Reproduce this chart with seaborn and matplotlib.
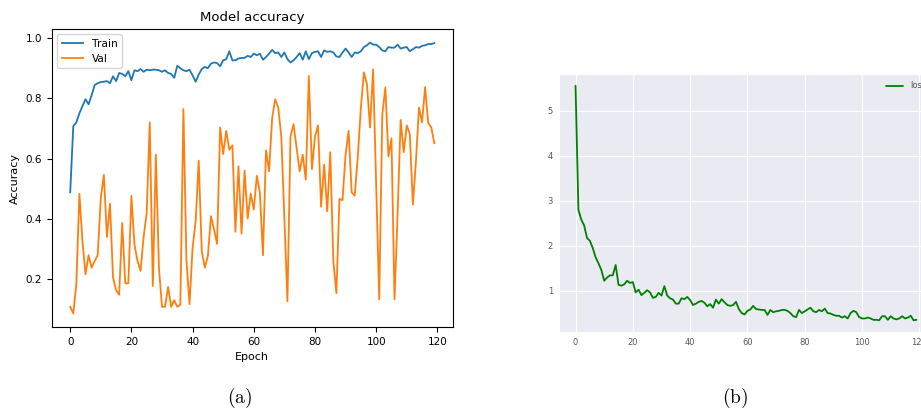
import numpy as np
import pandas as pd
import seaborn as sns
import matplotlib.pyplot as plt
import matplotlib as mpl

mpl.rcParams['mathtext.fontset'] = 'cm'

# data
epochs = list(range(120))

train_acc = [0.488, 0.707, 0.72, 0.75, 0.774, 0.797, 0.78, 0.81, 0.844, 0.85,
             0.854, 0.855, 0.857, 0.85, 0.873, 0.857, 0.884, 0.881, 0.873, 0.89,
             0.86, 0.893, 0.89, 0.897, 0.888, 0.895, 0.893, 0.895, 0.895, 0.893,
             0.888, 0.893, 0.884, 0.881, 0.868, 0.908, 0.9, 0.893, 0.89, 0.895,
             0.876, 0.855, 0.879, 0.897, 0.904, 0.9, 0.915, 0.919, 0.917, 0.906,
             0.926, 0.93, 0.956, 0.926, 0.926, 0.932, 0.934, 0.934, 0.941, 0.937,
             0.948, 0.943, 0.948, 0.928, 0.937, 0.948, 0.961, 0.95, 0.952, 0.937,
             0.952, 0.93, 0.919, 0.926, 0.937, 0.95, 0.928, 0.956, 0.93, 0.95,
             0.954, 0.956, 0.937, 0.959, 0.954, 0.956, 0.952, 0.939, 0.937, 0.952,
             0.965, 0.952, 0.937, 0.952, 0.95, 0.956, 0.97, 0.976, 0.985, 0.978,
             0.978, 0.97, 0.959, 0.956, 0.97, 0.968, 0.968, 0.978, 0.965, 0.968,
             0.97, 0.956, 0.963, 0.97, 0.968, 0.974, 0.976, 0.98, 0.98, 0.983]

val_acc = [0.108, 0.086, 0.183, 0.483, 0.326, 0.216, 0.279, 0.238, 0.26, 0.28,
           0.469, 0.546, 0.34, 0.45, 0.205, 0.163, 0.148, 0.386, 0.186, 0.186,
           0.476, 0.315, 0.26, 0.227, 0.34, 0.42, 0.72, 0.177, 0.613, 0.238,
           0.108, 0.108, 0.174, 0.108, 0.13, 0.108, 0.115, 0.764, 0.26, 0.117,
           0.304, 0.392, 0.593, 0.293, 0.238, 0.277, 0.409, 0.365, 0.317, 0.703,
           0.615, 0.692, 0.629, 0.644, 0.357, 0.574, 0.351, 0.56, 0.401, 0.484,
           0.431, 0.543, 0.486, 0.279, 0.627, 0.558, 0.734, 0.797, 0.769, 0.673,
           0.403, 0.126, 0.673, 0.714, 0.635, 0.558, 0.613, 0.53, 0.874, 0.565,
           0.673, 0.71, 0.44, 0.58, 0.425, 0.621, 0.26, 0.153, 0.466, 0.462,
           0.613, 0.692, 0.488, 0.477, 0.607, 0.769, 0.886, 0.846, 0.703, 0.896,
           0.513, 0.133, 0.746, 0.836, 0.607, 0.667, 0.133, 0.414, 0.728, 0.621,
           0.71, 0.681, 0.447, 0.591, 0.769, 0.72, 0.837, 0.718, 0.704, 0.651]

loss = [5.56, 2.80, 2.58, 2.45, 2.17, 2.11, 1.95, 1.74, 1.61, 1.46,
        1.22, 1.29, 1.34, 1.34, 1.57, 1.13, 1.11, 1.14, 1.22, 1.17,
        1.19, 0.96, 1.02, 0.90, 0.95, 1.01, 0.96, 0.84, 0.86, 0.95,
        0.89, 1.10, 0.89, 0.83, 0.80, 0.71, 0.71, 0.83, 0.81, 0.86,
        0.79, 0.68, 0.71, 0.75, 0.77, 0.73, 0.65, 0.70, 0.62, 0.80,
        0.71, 0.81, 0.74, 0.68, 0.66, 0.68, 0.75, 0.59, 0.50, 0.47,
        0.55, 0.58, 0.66, 0.59, 0.58, 0.57, 0.57, 0.46, 0.57, 0.52,
        0.54, 0.55, 0.57, 0.57, 0.55, 0.50, 0.43, 0.41, 0.57, 0.50,
        0.54, 0.58, 0.62, 0.54, 0.52, 0.57, 0.54, 0.60, 0.50, 0.49,
        0.46, 0.44, 0.44, 0.40, 0.43, 0.38, 0.50, 0.55, 0.52, 0.41,
        0.38, 0.38, 0.40, 0.38, 0.35, 0.35, 0.34, 0.43, 0.43, 0.35,
        0.43, 0.38, 0.36, 0.38, 0.43, 0.38, 0.40, 0.44, 0.34, 0.35]

W, H = 921, 412
fig = plt.figure(figsize=(W / 100, H / 100), dpi=100)

### (a) accuracy, plain matplotlib look
ax1 = fig.add_axes([52 / W, (H - 327) / H, 400.5 / W, 298 / H])
sns.lineplot(x=epochs, y=train_acc, label='Train', color='C0', linewidth=1.3, ax=ax1)
sns.lineplot(x=epochs, y=val_acc, label='Val', color='C1', linewidth=1.3, ax=ax1)
ax1.set_title('Model accuracy', fontsize=9.5)
ax1.set_xlabel('Epoch', fontsize=8)
ax1.set_ylabel('Accuracy', fontsize=8)
ax1.tick_params(labelsize=7.5)
ax1.set_xticks([0, 20, 40, 60, 80, 100, 120])
ax1.set_yticks([0.2, 0.4, 0.6, 0.8, 1.0])
ax1.legend(loc='upper left', fontsize=7.7)

### (b) loss, seaborn darkgrid, cropped at right edge
with sns.axes_style('darkgrid'):
    ax2 = fig.add_axes([558.5 / W, (H - 332) / H, 375 / W, 258 / H])
    df = pd.DataFrame({'epoch': epochs, 'loss': loss})
    sns.lineplot(data=df, x='epoch', y='loss', color='green', linewidth=1.3, label='loss', ax=ax2)
ax2.set_xlabel('')
ax2.set_ylabel('')
ax2.set_xticks([0, 20, 40, 60, 80, 100, 120])
ax2.set_yticks([1, 2, 3, 4, 5])
ax2.tick_params(labelsize=6, labelcolor='0.35', length=0, pad=4)
ax2.legend(loc='upper right', fontsize=6, frameon=False, labelcolor='0.35')

fig.text(240 / W, 1 - 398 / H, r'$\mathrm{(a)}$', fontsize=14, ha='center', va='center')
fig.text(735 / W, 1 - 398 / H, r'$\mathrm{(b)}$', fontsize=14, ha='center', va='center')

fig.savefig('out.png', dpi=100)
